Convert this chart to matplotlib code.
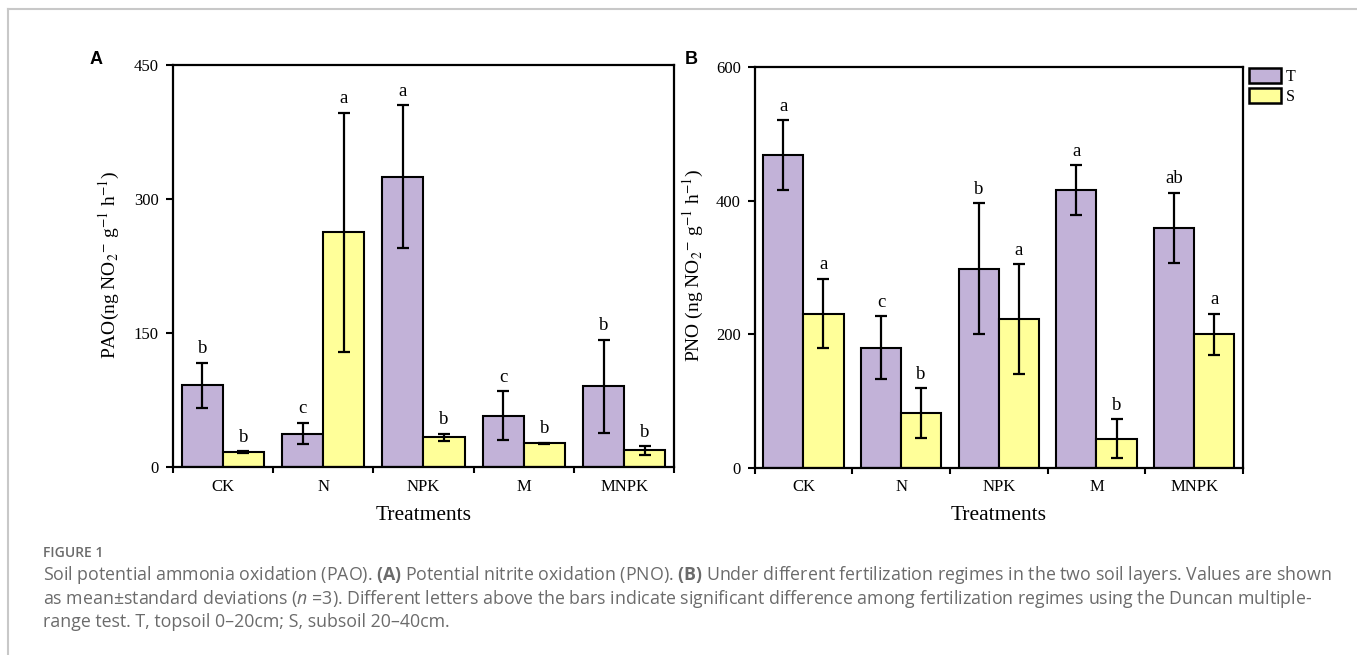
import matplotlib
matplotlib.use("Agg")
import matplotlib.pyplot as plt
import numpy as np
from matplotlib.lines import Line2D
from matplotlib.patches import Patch

# data
treatments = ["CK", "N", "NPK", "M", "MNPK"]

pao_T = [92, 38, 325, 58, 91]
pao_T_sd = [25, 12, 80, 27, 52]
pao_S = [17, 263, 34, 27, 19]
pao_S_sd = [1, 134, 4, 0.5, 4.5]
pao_T_let = ["b", "c", "a", "c", "b"]
pao_S_let = ["b", "a", "b", "b", "b"]

pno_T = [468, 180, 298, 416, 359]
pno_T_sd = [52, 47, 98, 37, 53]
pno_S = [231, 82, 223, 44, 200]
pno_S_sd = [52, 37, 82, 29, 31]
pno_T_let = ["a", "c", "b", "a", "ab"]
pno_S_let = ["a", "b", "a", "b", "a"]

purple = "#c2b2d8"
yellow = "#ffff99"
serif = "Liberation Serif"

plt.rcParams["mathtext.fontset"] = "custom"
plt.rcParams["mathtext.rm"] = "Open Sans"
plt.rcParams["mathtext.bf"] = "Open Sans:bold"
plt.rcParams["mathtext.it"] = "Open Sans:italic"

fig = plt.figure(figsize=(13.57, 6.55), dpi=100)

axA = fig.add_axes([0.1272, 0.2863, 0.3697, 0.6142])
axB = fig.add_axes([0.5561, 0.2855, 0.3599, 0.6122])


def panel(ax, t, tsd, s, ssd, tlet, slet, ymax, yticks, ylab):
    x = np.arange(len(treatments))
    w = 0.41
    ekw = dict(elinewidth=1.6, capthick=1.6, capsize=4, ecolor="black")
    ax.bar(x - w / 2, t, w, color=purple, edgecolor="black", linewidth=1.5,
           yerr=tsd, error_kw=ekw, zorder=2)
    ax.bar(x + w / 2, s, w, color=yellow, edgecolor="black", linewidth=1.5,
           yerr=ssd, error_kw=ekw, zorder=2)
    for i in range(len(x)):
        ax.annotate(tlet[i], (x[i] - w / 2, t[i] + tsd[i]), xytext=(0, 4),
                    textcoords="offset points", ha="center", va="bottom",
                    fontsize=13.5, family=serif)
        ax.annotate(slet[i], (x[i] + w / 2, s[i] + ssd[i]), xytext=(0, 4),
                    textcoords="offset points", ha="center", va="bottom",
                    fontsize=13.5, family=serif)
    ax.set_xlim(-0.5, len(x) - 0.5)
    ax.set_ylim(0, ymax)
    ax.set_yticks(yticks)
    ax.set_yticklabels([str(v) for v in yticks], family=serif, fontsize=12)
    ax.set_xticks(np.arange(-0.5, len(x), 1.0))
    ax.set_xticklabels([])
    ax.set_xticks(x, minor=True)
    ax.set_xticklabels(treatments, minor=True, family=serif, fontsize=12)
    ax.tick_params(axis="x", which="minor", length=0, pad=8)
    ax.tick_params(axis="x", which="major", direction="out", length=4, width=1.5)
    ax.tick_params(axis="y", direction="out", length=5, width=1.5, pad=5)
    for sp in ax.spines.values():
        sp.set_linewidth(1.6)
    ax.set_xlabel("Treatments", family=serif, fontsize=15.5)
    ax.xaxis.set_label_coords(0.5, -0.096)
    ax.set_ylabel(ylab, family=serif, fontsize=14, math_fontfamily="stix")
    ax.yaxis.set_label_coords(-0.1, 0.505)


panel(axA, pao_T, pao_T_sd, pao_S, pao_S_sd, pao_T_let, pao_S_let,
      450, [0, 150, 300, 450], r"PAO(ng NO$_2$$^{-}$ g$^{-1}$ h$^{-1}$)")
panel(axB, pno_T, pno_T_sd, pno_S, pno_S_sd, pno_T_let, pno_S_let,
      600, [0, 200, 400, 600], r"PNO (ng NO$_2$$^{-}$ g$^{-1}$ h$^{-1}$)")

handles = [Patch(facecolor=purple, edgecolor="black", linewidth=1.8),
           Patch(facecolor=yellow, edgecolor="black", linewidth=1.8)]
fig.legend(handles, ["T", "S"], loc="upper left",
           bbox_to_anchor=(1249 / 1357, 1 - 68 / 655), frameon=False,
           prop={"family": serif, "size": 11.5}, handlelength=2.0,
           handleheight=1.05, labelspacing=0.2, handletextpad=0.3,
           borderpad=0, borderaxespad=0)

fig.text(96 / 1357, 1 - 60 / 655, "A", ha="center", va="center",
         fontsize=13, fontweight="bold", family="Liberation Sans")
fig.text(691 / 1357, 1 - 59 / 655, "B", ha="center", va="center",
         fontsize=13, fontweight="bold", family="Liberation Sans")

# gray frame of the figure box
fig.add_artist(Line2D([8 / 1357, 1], [1 - 9 / 655, 1 - 9 / 655],
                      transform=fig.transFigure, color="#c8c8c8", lw=1.5))
fig.add_artist(Line2D([8 / 1357, 8 / 1357], [0, 1 - 9 / 655],
                      transform=fig.transFigure, color="#c8c8c8", lw=1.5))

# caption
cap_col = "#6b6b6b"
fig.text(43 / 1357, 1 - 557 / 655, "FIGURE 1", ha="left", va="baseline",
         fontsize=10, fontweight="semibold", family="Open Sans", color=cap_col)
lines = [
    r"Soil potential ammonia oxidation (PAO). $\mathbf{(A)}$ Potential nitrite oxidation (PNO). "
    r"$\mathbf{(B)}$ Under different fertilization regimes in the two soil layers. Values are shown",
    r"as mean±standard deviations ($\mathit{n}$ =3). Different letters above the bars indicate "
    r"significant difference among fertilization regimes using the Duncan multiple-",
    "range test. T, topsoil 0\u201320cm; S, subsoil 20\u201340cm.",
]
for i, ln in enumerate(lines):
    fig.text(43 / 1357, 1 - (580 + 23.5 * i) / 655, ln, ha="left", va="baseline",
             fontsize=12.75, family="Open Sans", color=cap_col,
             math_fontfamily="custom")

fig.savefig("out.png", dpi=100)
